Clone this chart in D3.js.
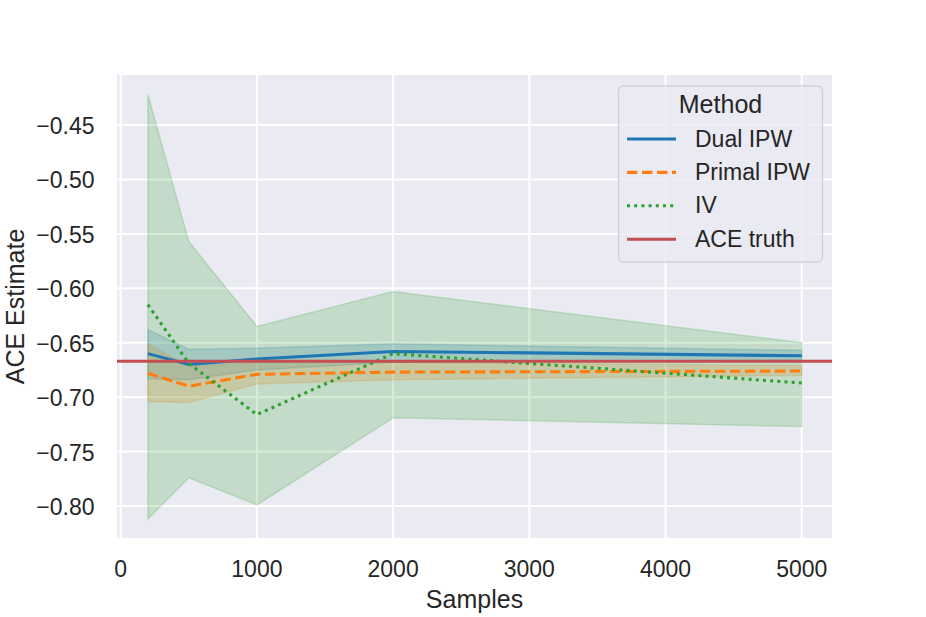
<!DOCTYPE html>
<html>
<head>
<meta charset="utf-8">
<script src="https://cdn.jsdelivr.net/npm/d3@7"></script>
<style>
    body { margin: 0; background: #fff; }
    text { font-family: "Liberation Sans", Arial, sans-serif; fill: #262626; }
</style>
</head>
<body>
<div id="chart"></div>
<script>
'use strict';

// sample sizes on the x axis
var samples = [200, 500, 1000, 2000, 5000];

// Dual IPW: mean and band
var dualMean = [-0.660, -0.670, -0.665, -0.658, -0.662];
var dualLo   = [-0.683, -0.684, -0.675, -0.668, -0.666];
var dualHi   = [-0.638, -0.656, -0.655, -0.651, -0.657];

// Primal IPW
var primalMean = [-0.678, -0.690, -0.679, -0.677, -0.676];
var primalLo   = [-0.704, -0.705, -0.688, -0.684, -0.680];
var primalHi   = [-0.651, -0.672, -0.668, -0.668, -0.671];

// IV
var ivMean = [-0.615, -0.669, -0.716, -0.660, -0.687];
var ivLo   = [-0.812, -0.774, -0.799, -0.719, -0.727];
var ivHi   = [-0.422, -0.557, -0.635, -0.603, -0.650];

var aceTruth = -0.667;

var xTicks = [0, 1000, 2000, 3000, 4000, 5000];
var yTicks = [-0.80, -0.75, -0.70, -0.65, -0.60, -0.55, -0.50, -0.45];

var legendNames = ['Dual IPW', 'Primal IPW', 'IV', 'ACE truth'];

var width    = 926,
    height   = 617,
    plotL    = 117,
    plotR    = 832,
    plotT    = 75,
    plotB    = 538,
    lw       = 3.1,
    dashed   = '10.5,4.5',
    dotted   = '3,4.2';

var svg = d3.select('#chart')
    .append('svg')
    .attr('width', width)
    .attr('height', height);

var x = d3.scaleLinear().domain([-27, 5222]).range([plotL, plotR]);
var y = d3.scaleLinear().domain([-0.8294, -0.404]).range([plotB, plotT]);

//plot background
svg.append('rect')
    .attr('x', plotL).attr('y', plotT)
    .attr('width', plotR - plotL).attr('height', plotB - plotT)
    .attr('fill', '#eaeaf2');

var plot = svg.append('g');
plot.append('clipPath').attr('id', 'clip')
    .append('rect')
    .attr('x', plotL).attr('y', plotT)
    .attr('width', plotR - plotL).attr('height', plotB - plotT);

//grid
plot.selectAll('.gx').data(xTicks).enter()
    .append('line')
    .attr('x1', function (d) { return x(d); })
    .attr('x2', function (d) { return x(d); })
    .attr('y1', plotT).attr('y2', plotB)
    .attr('stroke', '#fff').attr('stroke-width', 2);
plot.selectAll('.gy').data(yTicks).enter()
    .append('line')
    .attr('y1', function (d) { return y(d); })
    .attr('y2', function (d) { return y(d); })
    .attr('x1', plotL).attr('x2', plotR)
    .attr('stroke', '#fff').attr('stroke-width', 2);

var series = [
    { mean: dualMean,   lo: dualLo,   hi: dualHi,   color: '#1f77b4', dash: null },
    { mean: primalMean, lo: primalLo, hi: primalHi, color: '#ff7f0e', dash: dashed },
    { mean: ivMean,     lo: ivLo,     hi: ivHi,     color: '#2ca02c', dash: dotted }
];

var area = d3.area()
    .x(function (d) { return x(d.s); })
    .y0(function (d) { return y(d.lo); })
    .y1(function (d) { return y(d.hi); });

var line = d3.line()
    .x(function (d) { return x(d.s); })
    .y(function (d) { return y(d.v); });

var g = plot.append('g').attr('clip-path', 'url(#clip)');

series.forEach(function (s) {
    var pts = samples.map(function (v, i) {
        return { s: v, lo: s.lo[i], hi: s.hi[i] };
    });
    g.append('path')
        .attr('d', area(pts))
        .attr('fill', s.color).attr('fill-opacity', 0.2)
        .attr('stroke', s.color).attr('stroke-opacity', 0.2)
        .attr('stroke-width', 1.5);
});

series.forEach(function (s) {
    var pts = samples.map(function (v, i) { return { s: v, v: s.mean[i] }; });
    g.append('path')
        .attr('d', line(pts))
        .attr('fill', 'none')
        .attr('stroke', s.color)
        .attr('stroke-width', lw)
        .attr('stroke-dasharray', s.dash);
});

//ACE truth horizontal line
g.append('line')
    .attr('x1', plotL).attr('x2', plotR)
    .attr('y1', y(aceTruth)).attr('y2', y(aceTruth))
    .attr('stroke', '#c44e52').attr('stroke-width', lw);

//tick labels
svg.selectAll('.xt').data(xTicks).enter()
    .append('text')
    .attr('x', function (d) { return x(d); })
    .attr('y', 577)
    .attr('text-anchor', 'middle')
    .style('font-size', '23px')
    .text(function (d) { return d; });

svg.selectAll('.yt').data(yTicks).enter()
    .append('text')
    .attr('x', 94.5)
    .attr('y', function (d) { return y(d) + 9; })
    .attr('text-anchor', 'end')
    .style('font-size', '23px')
    .text(function (d) { return d.toFixed(2).replace('-', '\u2212'); });

//axis labels
svg.append('text')
    .attr('x', (plotL + plotR) / 2).attr('y', 608)
    .attr('text-anchor', 'middle')
    .style('font-size', '25px')
    .text('Samples');

svg.append('text')
    .attr('transform', 'translate(24,' + ((plotT + plotB) / 2) + ') rotate(-90)')
    .attr('text-anchor', 'middle')
    .style('font-size', '25px')
    .text('ACE Estimate');

//legend
var leg = svg.append('g');
leg.append('rect')
    .attr('x', 618.5).attr('y', 86)
    .attr('width', 204).attr('height', 176)
    .attr('rx', 5)
    .attr('fill', '#eaeaf2').attr('fill-opacity', 0.8)
    .attr('stroke', '#d0d0d6').attr('stroke-width', 1.3);

leg.append('text')
    .attr('x', 720.5).attr('y', 113)
    .attr('text-anchor', 'middle')
    .style('font-size', '25px')
    .text('Method');

var legColors = ['#1f77b4', '#ff7f0e', '#2ca02c', '#c44e52'];
var legDash = [null, dashed, dotted, null];

var items = leg.selectAll('.item').data(legendNames).enter()
    .append('g')
    .attr('transform', function (d, i) { return 'translate(0,' + (139 + i * 33.4) + ')'; });
items.append('line')
    .attr('x1', 627).attr('x2', 676)
    .attr('stroke', function (d, i) { return legColors[i]; })
    .attr('stroke-width', lw)
    .attr('stroke-dasharray', function (d, i) { return legDash[i]; });
items.append('text')
    .attr('x', 695).attr('y', 7.5)
    .style('font-size', '23px')
    .text(function (d) { return d; });
</script>
</body>
</html>
